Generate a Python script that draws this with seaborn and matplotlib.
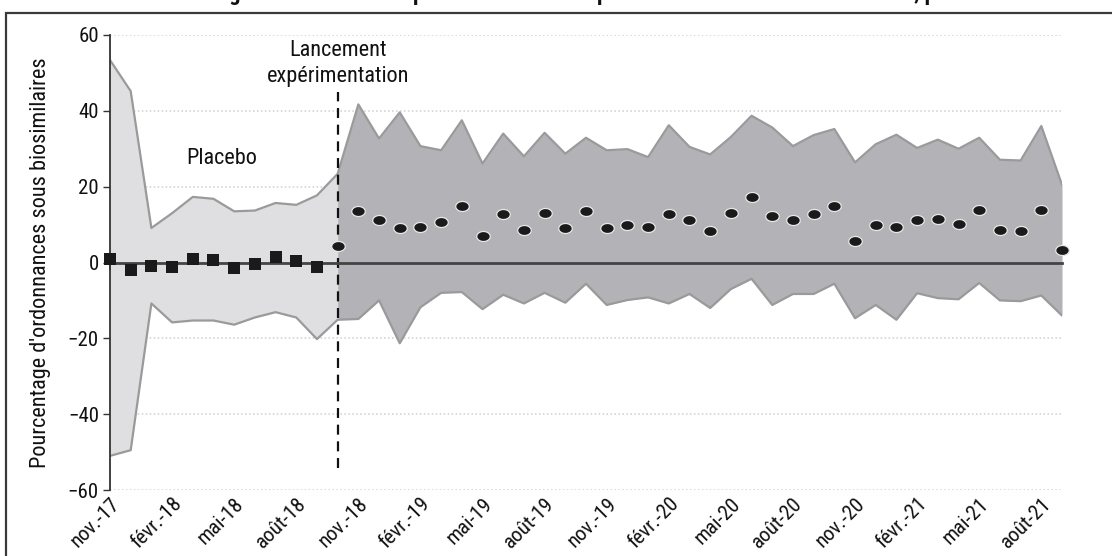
import numpy as np
import pandas as pd
import matplotlib
matplotlib.use("Agg")
import matplotlib.pyplot as plt
from matplotlib.path import Path
from matplotlib.patches import Rectangle
import seaborn as sns

# Mois de nov. 2017 à sept. 2021
abrev = ["janv.", "févr.", "mars", "avr.", "mai", "juin", "juil.", "août",
         "sept.", "oct.", "nov.", "déc."]
mois = [f"{abrev[(10 + i) % 12]}-{17 + (10 + i) // 12}" for i in range(47)]

# Bornes de l'intervalle de confiance (en points de %)
borne_haute = [53.4, 45.2, 9.1, 13.0, 17.3, 16.8, 13.5, 13.7, 15.7, 15.2, 17.7, 23.4,
               41.7, 32.7, 39.6, 30.7, 29.6, 37.5, 26.1, 34.0, 28.0, 34.2, 28.7, 32.9,
               29.6, 29.9, 27.8, 36.2, 30.5, 28.5,
               33.1, 38.7, 35.6, 30.7, 33.6, 35.2, 26.4, 31.2, 33.7, 30.2, 32.4, 30.0,
               32.9, 27.1, 26.9, 36.0, 20.5]
borne_basse = [-51.0, -49.5, -10.8, -15.8, -15.3, -15.3, -16.4, -14.5, -13.1, -14.5, -20.2, -15.1,
               -14.9, -10.0, -21.3, -11.8, -8.0, -7.8, -12.3, -8.5, -10.8, -8.0, -10.6, -5.6,
               -11.2, -9.9, -9.2, -10.8, -8.3, -12.0,
               -7.0, -4.3, -11.2, -8.3, -8.3, -5.6, -14.7, -11.2, -15.1, -8.1, -9.4, -9.7,
               -5.4, -10.0, -10.2, -8.7, -14.0]

# Estimations ponctuelles : période placebo puis période d'expérimentation
estim_placebo = [1.0, -2.1, -0.8, -1.2, 1.0, 0.7, -1.4, -0.4, 1.4, 0.5, -1.2]
estim_exp = [4.3, 13.5, 11.3, 9.2, 9.3, 10.7, 14.9, 7.0, 12.9, 8.6, 13.1, 9.1,
             13.6, 9.2, 10.0, 9.3, 12.9, 11.1, 8.3,
             13.1, 17.3, 12.2, 11.3, 12.7, 14.9, 5.8, 10.0, 9.3, 11.1, 11.5, 10.2,
             13.9, 8.6, 8.4, 13.8, 3.2]

debut_exp = len(estim_placebo)          # oct.-18
y_ticks = [-60, -40, -20, 0, 20, 40, 60]

x = np.arange(len(mois))
df_ic = pd.DataFrame({"x": x, "haut": borne_haute, "bas": borne_basse})
df_pl = pd.DataFrame({"x": x[:debut_exp], "y": estim_placebo})
df_ex = pd.DataFrame({"x": x[debut_exp:], "y": estim_exp})

sns.set_theme(style="white")
plt.rcParams["font.family"] = ["Roboto Condensed", "Liberation Sans", "DejaVu Sans"]
plt.rcParams["axes.unicode_minus"] = True

fig = plt.figure(figsize=(11.12, 5.56), dpi=100)
ax = fig.add_axes([110 / 1112, 1 - 490 / 556, (1062 - 110) / 1112, (490 - 35) / 556])

light, dark, edge = "#dfdfe1", "#b3b2b6", "#9a9a9a"
pre = df_ic[df_ic.x <= debut_exp]
post = df_ic[df_ic.x >= debut_exp]
ax.fill_between(pre.x, pre.bas, pre.haut, color=light, lw=0, zorder=1)
ax.fill_between(post.x, post.bas, post.haut, color=dark, lw=0, zorder=1)
sns.lineplot(data=df_ic, x="x", y="haut", color=edge, lw=1.6, ax=ax, zorder=2)
sns.lineplot(data=df_ic, x="x", y="bas", color=edge, lw=1.6, ax=ax, zorder=2)

# Grille pointillée
for v in y_ticks:
    if v != 0:
        ax.axhline(v, color="#cfcfcf", lw=1.1, ls=(0, (1, 1.6)), zorder=0.5)

# Trait vertical de lancement
ax.vlines(debut_exp, -54.2, 45, colors="#111111", lw=1.6, ls=(0, (4.5, 3)), zorder=3)

# Marqueurs
sns.scatterplot(data=df_pl, x="x", y="y", marker="s", s=65, color="#1a1a1a",
                edgecolor="#1a1a1a", linewidth=0, ax=ax, zorder=5, clip_on=False)
t = np.linspace(0, 2 * np.pi, 60)
ellipse = Path(np.column_stack([1.35 * np.cos(t), np.sin(t)]), closed=True)
sns.scatterplot(data=df_ex, x="x", y="y", marker=ellipse, s=95, color="#1a1a1a",
                edgecolor="#e8e8e8", linewidth=0.9, ax=ax, zorder=5, clip_on=False)

ax.set_xlim(0, len(mois) - 1)
ax.set_ylim(-60, 60)
ax.set_yticks(y_ticks)
ax.tick_params(axis="y", length=5, width=1, color="#333333", labelsize=15, pad=3,
               left=True, labelcolor="#111111")
for s in ["top", "right"]:
    ax.spines[s].set_visible(False)
ax.spines["left"].set_color("#333333")
ax.spines["left"].set_linewidth(1.3)
ax.spines["bottom"].set_position(("data", 0))
ax.spines["bottom"].set_color("#444444")
ax.spines["bottom"].set_linewidth(2)
ax.spines["bottom"].set_zorder(4)

tick_pos = x[::3]
ax.set_xticks(tick_pos)
ax.tick_params(axis="x", bottom=True, length=5, width=1.1, color="#333333",
               labelbottom=False, direction="out")

sec = ax.secondary_xaxis("bottom")
sec.set_xticks(tick_pos, [mois[i] for i in tick_pos])
sec.tick_params(length=0, labelsize=15, pad=3, labelcolor="#111111")
for lab in sec.get_xticklabels():
    lab.set_rotation(45)
    lab.set_ha("right")
    lab.set_rotation_mode("anchor")
sec.spines["bottom"].set_visible(False)

ax.set_xlabel("")
ax.set_ylabel("Pourcentage d'ordonnances sous biosimilaires", fontsize=16,
              color="#111111", labelpad=12)

ax.text(5.4, 27.5, "Placebo", fontsize=16, ha="center", va="center", color="#111111")
ax.text(debut_exp, 52.5, "Lancement\nexpérimentation", fontsize=16, ha="center",
        va="center", color="#111111", linespacing=1.3)

# Cadre et titre (le titre déborde au-dessus du cadre de l'image)
fig.patches.append(Rectangle((6 / 1112, -0.05), 1.2, 1 - 13 / 556 + 0.05,
                             transform=fig.transFigure, fill=False,
                             edgecolor="#3a3a3a", lw=1.6))
fig.text(607 / 1112, 1 - 5 / 556,
         "Figure 2 – Effet de l'expérimentation sur la part d'ordonnances de biosimilaires, par mois",
         ha="center", va="bottom", fontsize=16, fontweight="bold", color="#111111")

fig.savefig("out.png", dpi=100)
